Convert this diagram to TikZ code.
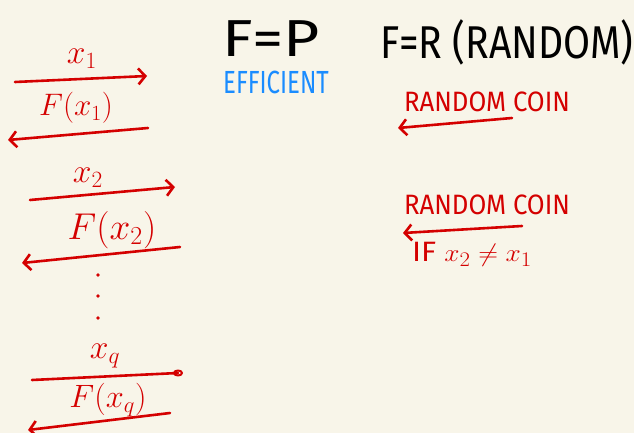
\documentclass[tikz,border=0pt]{standalone}
\usepackage{fontspec}
\setmainfont{Fira Sans}
\usetikzlibrary{arrows.meta}
\definecolor{bg}{HTML}{F8F5E9}
\definecolor{pen}{HTML}{D40000}
\definecolor{blu}{HTML}{1A8CFF}
\begin{document}
\begin{tikzpicture}[x=1pt,y=-1pt, line cap=round, line join=round,
  msg/.style={draw=pen, line width=2.6pt, -{Straight Barb[length=7pt,width=16pt,line width=2.6pt]}},
  plain/.style={draw=pen, line width=2.6pt},
  lbl/.style={text=pen, inner sep=0pt, font=\fontsize{24}{26}\selectfont},
  note/.style={text=pen, inner sep=0pt, font=\fontsize{28}{30}\selectfont}]
\fill[bg] (0,0) rectangle (634,433);
\useasboundingbox (0,0) rectangle (634,433);
% left messages
\coordinate (a1s) at (15,82);   \coordinate (a1e) at (147,76);
\coordinate (b1s) at (148,128); \coordinate (b1e) at (8,140);
\coordinate (a2s) at (30,200);  \coordinate (a2e) at (175,187);
\coordinate (b2s) at (180,247); \coordinate (b2e) at (22,263);
\coordinate (aqs) at (32,380);  \coordinate (aqe) at (178,373);
\coordinate (bqs) at (170,413); \coordinate (bqe) at (28,430);
\draw[msg] (a1s) -- (a1e);
\draw[msg] (b1s) -- (b1e);
\draw[msg] (a2s) -- (a2e);
\draw[msg] (b2s) -- (b2e);
\draw[plain] (aqs) -- (aqe);
\draw[pen, line width=2pt] (aqe) ellipse (4pt and 2.5pt);
\draw[msg] (bqs) -- (bqe);
\node[lbl] (l1) at (82,59) {\scalebox{1.35}{$x_1$}};
\node[lbl] (m1) at (76,108) {\scalebox{1.25}{$F(x_1)$}};
\node[lbl] (l2) at (88,178) {\scalebox{1.35}{$x_2$}};
\node[lbl] (m2) at (112,230) {\scalebox{1.5}{$F(x_2)$}};
\node[lbl] (lq) at (105,356) {\scalebox{1.35}{$x_q$}};
\node[lbl] (mq) at (108,400) {\scalebox{1.3}{$F(x_q)$}};
\fill[pen] (98,275) circle (1.8pt);
\fill[pen] (98,296) circle (1.8pt);
\fill[pen] (98,318) circle (1.8pt);
% headings
\node[text=black, inner sep=0pt, font=\fontsize{52}{56}\selectfont] (fp) at (271,39) {\scalebox{1.2}[1]{F=P}};
\node[text=blu, inner sep=0pt, font=\fontsize{32}{34}\selectfont] (eff) at (276,82) {\scalebox{0.75}[1]{EFFICIENT}};
\node[text=black, inner sep=0pt, font=\fontsize{46}{50}\selectfont] (fr) at (507,42) {\scalebox{0.85}[1]{F=R (RANDOM)}};
% right column
\coordinate (r1s) at (512,118); \coordinate (r1e) at (398,128);
\coordinate (r2s) at (522,226); \coordinate (r2e) at (403,233);
\draw[msg] (r1s) -- (r1e);
\draw[msg] (r2s) -- (r2e);
\node[note] (c1) at (487,102) {\scalebox{0.92}[1]{RANDOM COIN}};
\node[note] (c2) at (487,205) {\scalebox{0.92}[1]{RANDOM COIN}};
\node[note] (c3) at (472,254) {\scalebox{1.1}[1]{IF $x_2\neq x_1$}};
\end{tikzpicture}
\end{document}
